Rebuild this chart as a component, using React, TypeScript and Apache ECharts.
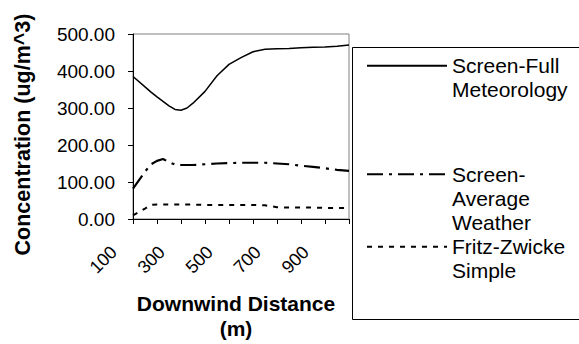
import React, { useEffect, useRef } from 'react';
import * as echarts from 'echarts';

const distances = [100, 150, 175, 200, 225, 250, 275, 300, 325, 350, 400, 450, 500, 550, 600, 650, 700, 750, 800, 850, 900, 950, 1000];
const fullMeteorology = [385, 357, 343, 330, 318, 306, 296, 294, 300, 313, 345, 387, 418, 436, 452, 459, 460, 461, 463, 464, 465, 467, 470];
const averageWeather = [82, 128, 148, 157, 162, 154, 147, 146, 146, 146, 148, 150, 151, 152, 152, 152, 150, 148, 144, 141, 137, 133, 130];
const fritzZwicke = [10, 28, 38, 39, 39, 39, 39, 39, 39, 39, 38, 38, 38, 38, 38, 37, 32, 31, 31, 31, 30, 30, 30];

const seriesNames = ['Screen-Full Meteorology', 'Screen-Average Weather', 'Fritz-Zwicke Simple'];
const legendLines = [['Screen-Full', 'Meteorology'], ['Screen-', 'Average', 'Weather'], ['Fritz-Zwicke', 'Simple']];
const xLabelValues = [100, 300, 500, 700, 900];

const FONT = '"Liberation Sans", Arial, Helvetica, sans-serif';

export default function App() {
  const ref = useRef<HTMLDivElement>(null);
  useEffect(() => {
    if (!ref.current) return;
    const chart = echarts.init(ref.current, undefined, { renderer: 'svg' });
    const seriesData = [fullMeteorology, averageWeather, fritzZwicke];
    const lineStyles: any[] = [
      { width: 1.5, type: 'solid' },
      { width: 2.2, type: [16, 6, 3, 6] },
      { width: 2, type: [5, 6] },
    ];
    const legendIconY = [65.7, 174.3, 246.7];
    const LH = 24;
    const legends = legendLines.map((lines, i) => {
      const n = lines.length;
      const H = (2 * n - 1) * LH;
      const padded = new Array(n - 1).fill('').concat(lines);
      return {
        data: [seriesNames[i]],
        orient: 'vertical',
        left: 366,
        top: legendIconY[i] - H / 2,
        padding: 0,
        itemWidth: 80,
        itemHeight: 14,
        selectedMode: false,
        itemStyle: { opacity: 0 },
        formatter: () => padded.join('\n'),
        textStyle: {
          fontFamily: FONT,
          fontSize: 21,
          lineHeight: LH,
          color: '#000',
        },
      };
    });
    chart.setOption({
      animation: false,
      backgroundColor: '#fff',
      grid: {
        left: 133,
        top: 34,
        width: 216,
        height: 185,
        show: true,
        borderColor: '#808080',
        borderWidth: 1,
        backgroundColor: '#fff',
        containLabel: false,
        outerBoundsMode: 'none',
      },
      legend: legends,
      graphic: [
        {
          type: 'rect',
          z: -1,
          shape: { x: 352.5, y: 47.5, width: 260, height: 272 },
          style: { fill: 'none', stroke: '#000', lineWidth: 1 },
        },
      ],
      xAxis: {
        type: 'value',
        min: 100,
        max: 1000,
        interval: 100,
        name: 'Downwind Distance\n(m)',
        nameLocation: 'middle',
        nameGap: 72,
        nameTextStyle: {
          fontFamily: FONT,
          fontWeight: 'bold',
          fontSize: 21,
          lineHeight: 25,
          color: '#000',
          padding: [0, 10, 0, 0],
        },
        axisLine: { show: true, lineStyle: { color: '#000', width: 1 } },
        axisTick: { show: true, length: 5, lineStyle: { color: '#000' } },
        splitLine: { show: false },
        axisLabel: {
          rotate: 45,
          margin: 11,
          padding: [0, 27, 0, 0],
          fontFamily: FONT,
          fontSize: 18,
          color: '#000',
          formatter: (v: number) => (xLabelValues.includes(v) ? String(v) : ''),
        },
      },
      yAxis: {
        type: 'value',
        min: 0,
        max: 500,
        interval: 100,
        name: 'Concentration (ug/m^3)',
        nameLocation: 'middle',
        nameRotate: 90,
        nameGap: 99,
        nameTextStyle: {
          fontFamily: FONT,
          fontWeight: 'bold',
          fontSize: 21.5,
          color: '#000',
          padding: [0, 16, 0, 0],
        },
        axisLine: { show: true, lineStyle: { color: '#000', width: 1 } },
        axisTick: { show: true, length: 5, lineStyle: { color: '#000' } },
        splitLine: { show: false },
        axisLabel: {
          margin: 18,
          fontFamily: FONT,
          fontSize: 19,
          color: '#000',
          formatter: (v: number) => v.toFixed(2),
        },
      },
      series: seriesNames.map((name, i) => ({
        type: 'line',
        name,
        data: distances.map((d, j) => [d, seriesData[i][j]]),
        symbol: 'none',
        color: '#000',
        itemStyle: { color: '#000' },
        lineStyle: { color: '#000', ...lineStyles[i] },
      })),
    });
    return () => chart.dispose();
  }, []);
  return (
    <div
      ref={ref}
      style={{ position: 'fixed', left: 0, top: 0, width: 579, height: 344, background: '#fff' }}
    />
  );
}
